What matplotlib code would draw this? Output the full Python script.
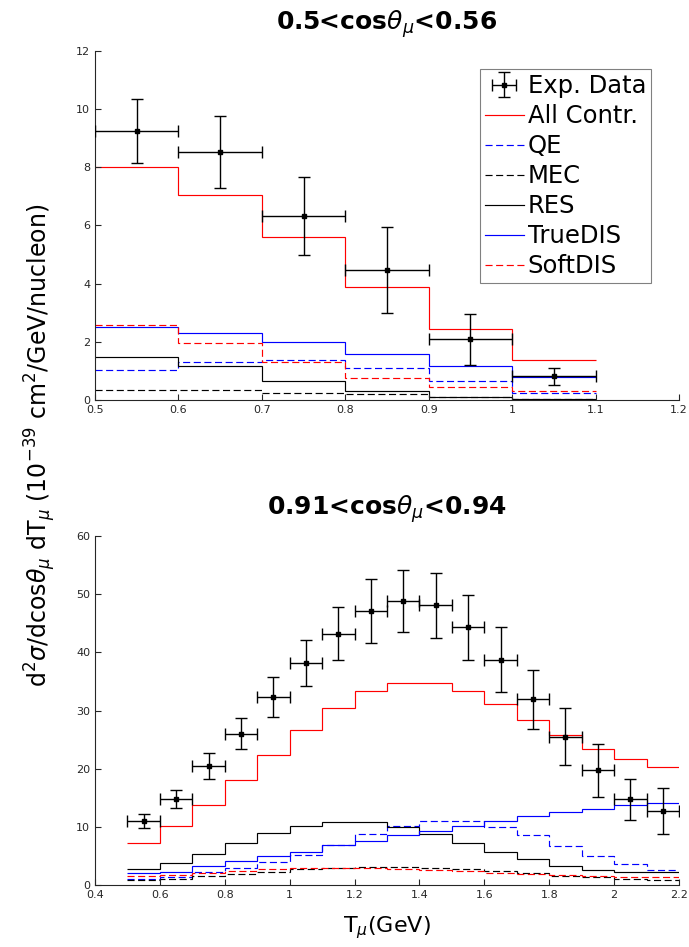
import numpy as np
import matplotlib
matplotlib.use("Agg")
import matplotlib.pyplot as plt

# ---------------- data: top panel (0.5<cos<0.56) ----------------
top_edges = [0.5, 0.6, 0.7, 0.8, 0.9, 1.0, 1.1]
top_x = [0.55, 0.65, 0.75, 0.85, 0.95, 1.05]
top_data = [9.24, 8.52, 6.32, 4.48, 2.09, 0.81]
top_err = [1.10, 1.23, 1.34, 1.48, 0.87, 0.29]
top_all = [8.00, 7.05, 5.59, 3.90, 2.43, 1.38]
top_qe = [1.02, 1.30, 1.36, 1.10, 0.65, 0.24]
top_mec = [0.34, 0.33, 0.25, 0.19, 0.12, 0.04]
top_res = [1.49, 1.16, 0.66, 0.32, 0.10, 0.03]
top_truedis = [2.52, 2.31, 1.99, 1.58, 1.16, 0.78]
top_softdis = [2.59, 1.95, 1.31, 0.77, 0.45, 0.30]

# ---------------- data: bottom panel (0.91<cos<0.94) ----------------
bot_edges = [0.5, 0.6, 0.7, 0.8, 0.9, 1.0, 1.1, 1.2, 1.3, 1.4, 1.5,
             1.6, 1.7, 1.8, 1.9, 2.0, 2.1, 2.2]
bot_x = [0.55, 0.65, 0.75, 0.85, 0.95, 1.05, 1.15, 1.25, 1.35, 1.45,
         1.55, 1.65, 1.75, 1.85, 1.95, 2.05, 2.15]
bot_data = [11.0, 14.8, 20.5, 26.0, 32.3, 38.2, 43.2, 47.1, 48.8, 48.1,
            44.3, 38.7, 31.9, 25.5, 19.7, 14.7, 12.7]
bot_err = [1.15, 1.6, 2.2, 2.7, 3.4, 4.0, 4.6, 5.5, 5.3, 5.6,
           5.6, 5.6, 5.1, 4.85, 4.6, 3.6, 4.0]
bot_all = [7.27, 10.16, 13.8, 18.1, 22.3, 26.6, 30.4, 33.3, 34.8, 34.8,
           33.4, 31.2, 28.4, 25.8, 23.4, 21.6, 20.3]
bot_qe = [1.0, 1.4, 2.2, 3.0, 4.0, 5.1, 6.9, 8.7, 10.2, 11.0,
          11.0, 10.0, 8.6, 6.75, 5.05, 3.6, 2.5]
bot_mec = [0.8, 1.1, 1.5, 1.9, 2.3, 2.7, 3.0, 3.1, 3.1, 3.0,
           2.7, 2.4, 2.0, 1.6, 1.3, 1.0, 0.8]
bot_res = [2.7, 3.8, 5.4, 7.2, 8.9, 10.2, 10.8, 10.8, 9.9, 8.7,
           7.2, 5.7, 4.45, 3.3, 2.6, 2.2, 2.3]
bot_truedis = [2.0, 2.3, 3.2, 4.2, 5.0, 5.7, 6.8, 7.5, 8.6, 9.3,
               10.2, 11.0, 11.8, 12.5, 13.1, 13.8, 14.1]
bot_softdis = [1.5, 1.8, 2.1, 2.4, 2.7, 2.9, 3.0, 2.9, 2.8, 2.6,
               2.4, 2.1, 1.9, 1.7, 1.5, 1.4, 1.3]

top_xticks = [0.5, 0.6, 0.7, 0.8, 0.9, 1.0, 1.1, 1.2]
top_xticklabels = ["0.5", "0.6", "0.7", "0.8", "0.9", "1", "1.1", "1.2"]
top_yticks = [0, 2, 4, 6, 8, 10, 12]
bot_xticks = [0.4, 0.6, 0.8, 1.0, 1.2, 1.4, 1.6, 1.8, 2.0, 2.2]
bot_xticklabels = ["0.4", "0.6", "0.8", "1", "1.2", "1.4", "1.6", "1.8", "2", "2.2"]
bot_yticks = [0, 10, 20, 30, 40, 50, 60]

labels = ["Exp. Data", "All Contr.", "QE", "MEC", "RES", "TrueDIS", "SoftDIS"]

plt.rcParams['font.family'] = ['DejaVu Sans']

W, H = 689, 947
fig = plt.figure(figsize=(W / 100, H / 100), dpi=100)

def px_axes(l, r, t, b):
    return fig.add_axes([l / W, 1 - b / H, (r - l) / W, (b - t) / H])

ax1 = px_axes(95, 679, 51, 400)
ax2 = px_axes(95, 679, 536, 885)

AXC = (0.15, 0.15, 0.15)
LW = 0.85
DASH = (0, (6, 3))


def draw(ax, edges, xc, data, err, allc, qe, mec, res, tdis, sdis):
    h_data = ax.errorbar(xc, data, yerr=err, xerr=0.05, fmt='s', color='black',
                         ms=2.5, elinewidth=1.0, capsize=4, capthick=1.0,
                         ecolor='black', zorder=10)
    h_all = ax.stairs(allc, edges, color='red', lw=LW, baseline=None)
    h_qe = ax.stairs(qe, edges, color='blue', lw=LW, ls=DASH, baseline=None)
    h_mec = ax.stairs(mec, edges, color='black', lw=LW, ls=DASH, baseline=None)
    h_res = ax.stairs(res, edges, color='black', lw=LW, baseline=None)
    h_td = ax.stairs(tdis, edges, color='blue', lw=LW, baseline=None)
    h_sd = ax.stairs(sdis, edges, color='red', lw=LW, ls=DASH, baseline=None)
    for sp in ['top', 'right']:
        ax.spines[sp].set_visible(False)
    for sp in ['left', 'bottom']:
        ax.spines[sp].set_color(AXC)
        ax.spines[sp].set_linewidth(0.8)
    ax.tick_params(direction='in', length=4, width=0.8, colors=AXC,
                   labelsize=8, labelcolor=AXC)
    return [h_data, h_all, h_qe, h_mec, h_res, h_td, h_sd]


handles = draw(ax1, top_edges, top_x, top_data, top_err, top_all, top_qe,
               top_mec, top_res, top_truedis, top_softdis)
ax1.set_xlim(0.5, 1.2)
ax1.set_ylim(0, 12)
ax1.set_xticks(top_xticks)
ax1.set_xticklabels(top_xticklabels)
ax1.set_yticks(top_yticks)
ax1.set_title(r'0.5<cos$\theta_{\mu}$<0.56', fontsize=18, fontweight='bold', pad=15)

leg = ax1.legend(handles, labels, loc='upper right', bbox_to_anchor=(0.952, 0.948),
                 fontsize=17.5, frameon=True, fancybox=False, framealpha=1,
                 edgecolor=(0.5, 0.5, 0.5), handlelength=1.6, handletextpad=0.16,
                 labelspacing=0.25, borderpad=0.2, borderaxespad=0)
leg.get_frame().set_linewidth(0.8)

draw(ax2, bot_edges, bot_x, bot_data, bot_err, bot_all, bot_qe,
     bot_mec, bot_res, bot_truedis, bot_softdis)
ax2.set_xlim(0.4, 2.2)
ax2.set_ylim(0, 60)
ax2.set_xticks(bot_xticks)
ax2.set_xticklabels(bot_xticklabels)
ax2.set_yticks(bot_yticks)
ax2.set_title(r'0.91<cos$\theta_{\mu}$<0.94', fontsize=18, fontweight='bold', pad=15)
ax2.set_xlabel(r'T$_{\mu}$(GeV)', fontsize=16, labelpad=10)

fig.text(40 / W, 1 - 445 / H,
         r'd$^2\sigma$/dcos$\theta_{\mu}$ dT$_{\mu}$ (10$^{-39}$ cm$^2$/GeV/nucleon)',
         rotation=90, ha='center', va='center', fontsize=17)

fig.savefig('out.png', dpi=100)
